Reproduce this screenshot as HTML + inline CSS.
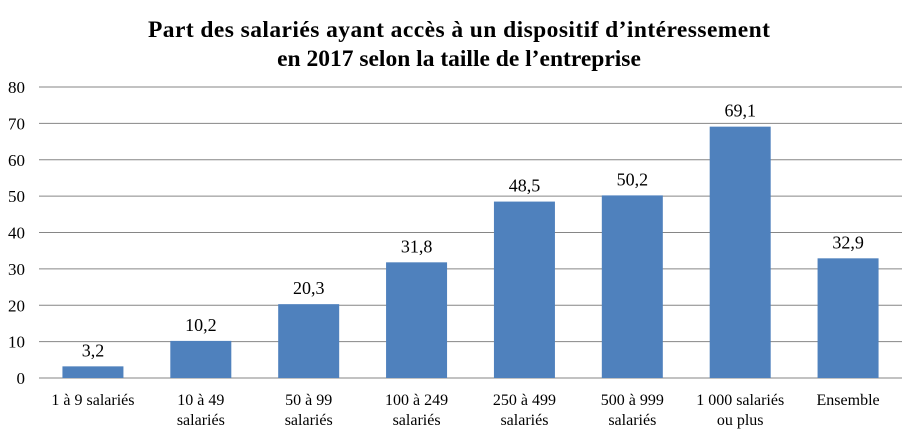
<!DOCTYPE html>
<html><head><meta charset="utf-8"><style>
html,body{margin:0;padding:0;background:#fff;}
svg{display:block;font-family:"Liberation Serif",serif;}
</style></head><body>
<svg id="chart" width="919" height="440">
<text x="459" y="37" text-anchor="middle" font-size="23.5" font-weight="bold" fill="#000" textLength="622">Part des salariés ayant accès à un dispositif d’intéressement</text>
<text x="459" y="66" text-anchor="middle" font-size="23.5" font-weight="bold" fill="#000">en 2017 selon la taille de l’entreprise</text>
<g id="grid"></g><g id="bars"></g><g id="labels"></g>
</svg>
<script>
const categories=[["1 à 9 salariés"],["10 à 49","salariés"],["50 à 99","salariés"],["100 à 249","salariés"],["250 à 499","salariés"],["500 à 999","salariés"],["1 000 salariés","ou plus"],["Ensemble"]];
const values=[3.2,10.2,20.3,31.8,48.5,50.2,69.1,32.9];
const valueLabels=["3,2","10,2","20,3","31,8","48,5","50,2","69,1","32,9"];
const ticks=[0,10,20,30,40,50,60,70,80];
const NS="http://www.w3.org/2000/svg";
const x0=39,x1=902,yBase=378,yTop=87,yMax=80;
const band=(x1-x0)/categories.length,barW=61;
function y(v){return yBase-(v/yMax)*(yBase-yTop);}
function xc(i){return x0+band*(i+0.5);}
function mk(t,a,p){const e=document.createElementNS(NS,t);for(const k in a)e.setAttribute(k,a[k]);p.appendChild(e);return e;}
const grid=document.getElementById('grid'),bars=document.getElementById('bars'),labels=document.getElementById('labels');
ticks.forEach(t=>{
  const l=mk('line',{x1:x0,x2:x1,y1:y(t),y2:y(t),stroke:'#868686','stroke-width':1},grid);
  
  
  const tx=mk('text',{x:25,y:y(t)+6,'text-anchor':'end','font-size':17,fill:'#000'},grid);
  tx.textContent=t;
  
  
});
values.forEach((v,i)=>{
  const r=mk('rect',{x:xc(i)-barW/2,y:y(v),width:barW,height:yBase-y(v),fill:'#4f81bd'},bars);
  
  
  const t=mk('text',{x:xc(i),y:y(v)-10,'text-anchor':'middle','font-size':18,fill:'#000'},labels);
  t.textContent=valueLabels[i];
  
  
  categories[i].forEach((line,j)=>{
    const c=mk('text',{x:xc(i),y:405+j*20,'text-anchor':'middle','font-size':16,fill:'#000'},labels);
    c.textContent=line;
    
    
  });
});
</script>
</body></html>
